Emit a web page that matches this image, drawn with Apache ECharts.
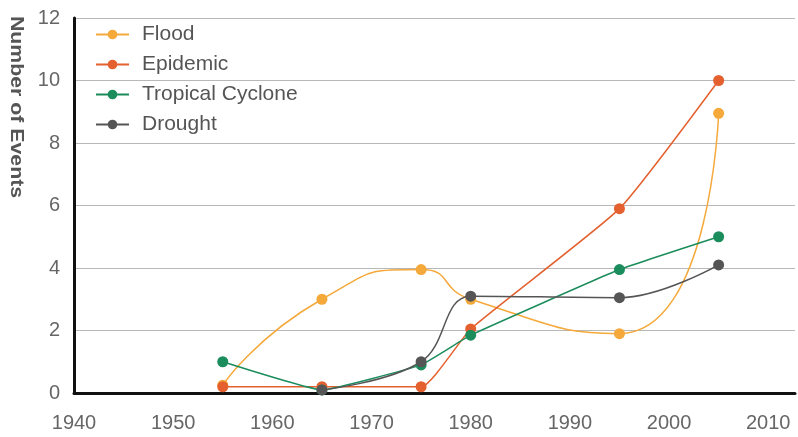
<!DOCTYPE html>
<html>
<head>
<meta charset="utf-8">
<script src="https://cdn.jsdelivr.net/npm/echarts@6/dist/echarts.min.js"></script>
<style>
  html, body { margin: 0; padding: 0; background: #fff; }
  #chart { width: 798px; height: 437px; }
</style>
</head>
<body>
<div id="chart"></div>
<script>
// Disaster events per decade, by type
var flood     = [[1955, 0.25], [1965, 3], [1975, 3.95], [1980, 3], [1995, 1.9], [2005, 8.95]];
var epidemic  = [[1955, 0.2], [1965, 0.2], [1975, 0.2], [1980, 2.05], [1995, 5.9], [2005, 10]];
var cyclone   = [[1955, 1], [1965, 0.1], [1975, 0.9], [1980, 1.85], [1995, 3.95], [2005, 5]];
var drought   = [[1965, 0.1], [1975, 1], [1980, 3.1], [1995, 3.05], [2005, 4.1]];

var seriesNames  = ['Flood', 'Epidemic', 'Tropical Cyclone', 'Drought'];
var seriesColors = ['#f4a93a', '#e4602f', '#1b8c5c', '#555555'];
var yAxisTitle   = 'Number of Events';

var chart = echarts.init(document.getElementById('chart'));

function lineSeries(name, data, color, smooth) {
  return {
    name: name,
    type: 'line',
    data: data,
    smooth: smooth,
    symbol: 'circle',
    symbolSize: 11,
    itemStyle: { color: color },
    lineStyle: { color: color, width: 1.5 }
  };
}

chart.setOption({
  animation: false,
  textStyle: { fontFamily: 'Liberation Sans, Arial, sans-serif' },
  grid: { left: 74, right: 3, top: 18, bottom: 44, containLabel: false },
  legend: {
    orient: 'vertical',
    left: 90,
    top: 19,
    itemWidth: 33,
    itemHeight: 12,
    itemGap: 9,
    textStyle: { fontSize: 21, color: '#555', padding: [0, 0, 0, 8] },
    data: seriesNames
  },
  xAxis: {
    type: 'value',
    min: 1940,
    max: 2012.7,
    interval: 10,
    axisLine: { show: true, lineStyle: { color: '#111', width: 3 } },
    axisTick: { show: false },
    splitLine: { show: false },
    axisLabel: {
      fontSize: 20, color: '#666', margin: 20,
      showMaxLabel: false,
      formatter: function (v) { return String(v); }
    }
  },
  yAxis: {
    type: 'value',
    min: 0,
    max: 12,
    interval: 2,
    axisLine: { show: true, lineStyle: { color: '#111', width: 3 } },
    axisTick: { show: false },
    splitLine: { lineStyle: { color: '#b8b8b8', width: 1.2 } },
    axisLabel: { fontSize: 20, color: '#666', margin: 14 }
  },
  graphic: [{
    type: 'text',
    x: 16,
    y: 107,
    rotation: -Math.PI / 2,
    scaleX: 1.12,
    style: {
      text: yAxisTitle,
      font: 'bold 19px "Liberation Sans", Arial, sans-serif',
      fill: '#555',
      align: 'center',
      verticalAlign: 'middle'
    }
  }],
  series: [
    lineSeries(seriesNames[0], flood, seriesColors[0], 0.6),
    lineSeries(seriesNames[1], epidemic, seriesColors[1], 0.15),
    lineSeries(seriesNames[2], cyclone, seriesColors[2], 0.1),
    lineSeries(seriesNames[3], drought, seriesColors[3], 0.4)
  ]
});
</script>
</body>
</html>
